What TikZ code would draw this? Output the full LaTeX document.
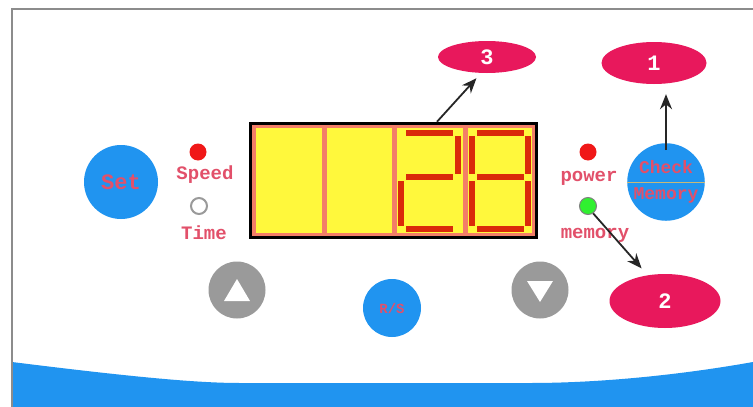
\documentclass[tikz,border=0pt]{standalone}
\usepackage{fontspec}
\newfontfamily\panelfont{Liberation Mono}
\usepackage{tikz}
\usetikzlibrary{arrows.meta,calc,positioning,shapes.geometric}
\definecolor{panelframe}{HTML}{8C8C8C}
\definecolor{panelblue}{HTML}{2094F0}
\definecolor{pink}{HTML}{E8185C}
\definecolor{labelred}{HTML}{E2506A}
\definecolor{lcdback}{HTML}{F37E68}
\definecolor{lcdcell}{HTML}{FFF83C}
\definecolor{segred}{HTML}{DA2A0A}
\definecolor{ledred}{HTML}{F01818}
\definecolor{ledgreen}{HTML}{30F030}
\definecolor{keygray}{HTML}{9A9A9A}
\definecolor{divider}{HTML}{C9B877}
\tikzset{
  bluekey/.style={circle,fill=panelblue,text=labelred,inner sep=0pt,align=center},
  graykey/.style={circle,fill=keygray,minimum size=57pt,inner sep=0pt},
  badge/.style={ellipse,fill=pink,text=white,inner sep=0pt,font=\panelfont\bfseries\fontsize{22}{22}\selectfont},
  led/.style={circle,minimum size=17pt,inner sep=0pt},
  ledtext/.style={text=labelred,inner sep=0pt,font=\panelfont\bfseries\fontsize{19}{19}\selectfont},
  cell/.style={fill=lcdcell},
  seg/.style={draw=segred,line width=6pt},
  pointer/.style={-{Stealth[length=15pt,width=12pt]},draw=black!85,line width=1.8pt}
}
\begin{document}
\begin{tikzpicture}[x=1pt,y=-1pt]
  \useasboundingbox (0,0) rectangle (753,407);
  \fill[white] (0,0) rectangle (753,407);
  % bottom wave and frame
  \fill[panelblue] (12,362) .. controls (140,378) and (200,383) .. (240,383) -- (530,383)
    .. controls (600,383) and (680,375) .. (753,362) -- (753,407) -- (12,407) -- cycle;
  \draw[panelframe,line width=2.5pt] (12,407) |- (753,9);

  % display
  \node[draw=black,line width=3.5pt,fill=lcdback,minimum width=286pt,minimum height=114pt,inner sep=0pt] (lcd) at (393.5,180.5) {};
  \foreach \x/\w in {256/66,327/65,397/66,468/64}
    \fill[cell] (\x,128) rectangle ++(\w,105);
  % digit 2
  \draw[seg] (406,133) -- (453,133) (458,136) -- (458,174) (406,177) -- (453,177)
    (401,181) -- (401,226) (406,229) -- (453,229);
  % digit 8
  \draw[seg] (477,133) -- (524,133) (472,136) -- (472,174) (528,136) -- (528,174)
    (477,177) -- (524,177) (472,181) -- (472,226) (528,181) -- (528,226) (477,229) -- (524,229);

  % keys
  \node[bluekey,minimum size=74pt,font=\panelfont\bfseries\fontsize{22}{22}\selectfont] (set) at (121,182) {Set};
  \node[bluekey,minimum size=58pt,font=\panelfont\bfseries\fontsize{14}{14}\selectfont] (rs) at (392,308) {R/S};
  \node[graykey] (up) at (237,290) {};
  \node[graykey] (down) at (540,290) {};
  \fill[white] ([shift={(0,-11)}]up.center) -- ([shift={(-13,11)}]up.center) -- ([shift={(13,11)}]up.center) -- cycle;
  \fill[white] ([shift={(0,12)}]down.center) -- ([shift={(-13,-9)}]down.center) -- ([shift={(13,-9)}]down.center) -- cycle;
  \node[bluekey,minimum size=76pt,font=\panelfont\bfseries\fontsize{18}{26}\selectfont] (check) at (666,182) {Check\\Memory};
  \draw[divider,line width=1pt] (check.west) -- (check.east);

  % lamps
  \node[led,fill=ledred] (speedled) at (198,152) {};
  \node[ledtext] (speed) at (205,175) {Speed};
  \node[led,draw=keygray,line width=2pt,minimum size=16pt] (timeled) at (199,206) {};
  \node[ledtext] (time) at (204,233) {Time};
  \node[led,fill=ledred] (powerled) at (588,152) {};
  \node[ledtext] (power) at (589,178) {power};
  \node[led,fill=ledgreen,draw=gray,line width=1pt] (memled) at (588,206) {};
  \node[ledtext] (memory) at (595,235) {memory};

  % callouts
  \node[badge,minimum width=98pt,minimum height=32pt] (three) at (487,57) {3};
  \node[badge,minimum width=105pt,minimum height=42pt] (one) at (654,63) {1};
  \node[badge,minimum width=111pt,minimum height=54pt] (two) at (665,301) {2};
  \draw[pointer,shorten >=7pt] ([xshift=43.5pt]lcd.north) -- (three.250);
  \draw[pointer,shorten >=10pt] ([yshift=-7pt]check.north) -- (check.north |- one.south);
  \draw[pointer,shorten >=9pt] (memled.-55) -- (two.124);
\end{tikzpicture}
\end{document}
